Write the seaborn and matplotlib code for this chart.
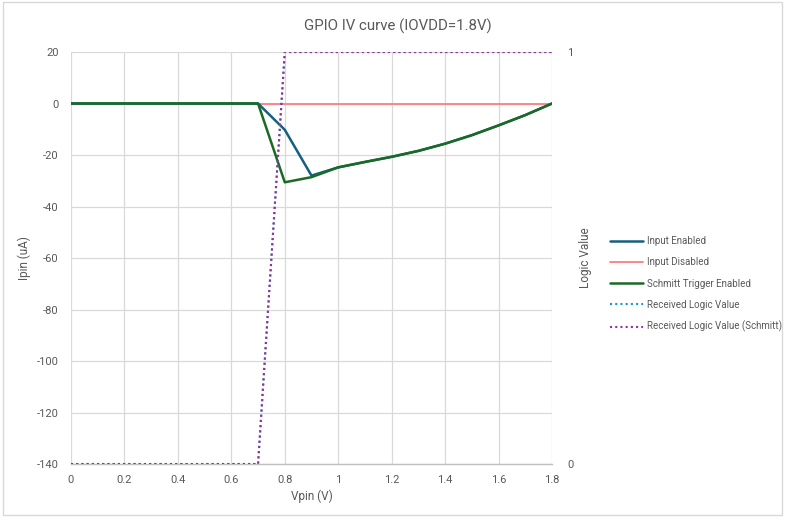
import matplotlib
matplotlib.use("Agg")
import matplotlib.pyplot as plt
import seaborn as sns
import pandas as pd
from matplotlib.lines import Line2D

vpin = [0.0, 0.1, 0.2, 0.3, 0.4, 0.5, 0.6, 0.7, 0.8, 0.9, 1.0, 1.1, 1.2, 1.3, 1.4, 1.5, 1.6, 1.7, 1.8]
input_enabled = [0, 0, 0, 0, 0, 0, 0, 0, -10.2, -28.0, -24.8, -22.7, -20.7, -18.4, -15.6, -12.3, -8.5, -4.5, 0]
input_disabled = [0] * 19
schmitt_enabled = [0, 0, 0, 0, 0, 0, 0, 0, -30.6, -28.6, -24.8, -22.7, -20.7, -18.4, -15.6, -12.3, -8.5, -4.5, 0]
logic_value = [0, 0, 0, 0, 0, 0, 0, 0, 1, 1, 1, 1, 1, 1, 1, 1, 1, 1, 1]
logic_value_schmitt = [0, 0, 0, 0, 0, 0, 0, 0, 1, 1, 1, 1, 1, 1, 1, 1, 1, 1, 1]

y_ticks = [20, 0, -20, -40, -60, -80, -100, -120, -140]
x_ticks = [0, 0.2, 0.4, 0.6, 0.8, 1, 1.2, 1.4, 1.6, 1.8]
x_tick_labels = ["0", "0.2", "0.4", "0.6", "0.8", "1", "1.2", "1.4", "1.6", "1.8"]

sns.set_theme(style="white")
plt.rcParams["font.family"] = ["Roboto", "DejaVu Sans"]

c_blue = "#156082"
c_red = "#FF7C80"
c_green = "#196B24"
c_cyan = "#0F9ED5"
c_purple = "#A02B93"
tick_color = "#595959"
dot = (0, (1, 1.5))

fig = plt.figure(figsize=(7.87, 5.17), dpi=100)
ax = fig.add_axes([0.0902, 0.1025, 0.6112, 0.7969])
ax2 = ax.twinx()

df = pd.DataFrame({"v": vpin, "en": input_enabled, "dis": input_disabled, "sch": schmitt_enabled,
                   "lv": logic_value, "lvs": logic_value_schmitt})

sns.lineplot(data=df, x="v", y="dis", ax=ax, color=c_red, linewidth=1.3, zorder=3)
sns.lineplot(data=df, x="v", y="en", ax=ax, color=c_blue, linewidth=1.8, zorder=4)
sns.lineplot(data=df, x="v", y="sch", ax=ax, color=c_green, linewidth=1.8, zorder=5)
sns.lineplot(data=df, x="v", y="lv", ax=ax2, color=c_cyan, linewidth=1.5, linestyle=dot)
sns.lineplot(data=df, x="v", y="lvs", ax=ax2, color=c_purple, linewidth=1.5, linestyle=dot)

ax.set_xlim(0, 1.8)
ax.set_ylim(-140, 20)
ax2.set_ylim(0, 1)
ax.set_xticks(x_ticks)
ax.set_xticklabels(x_tick_labels)
ax.set_yticks(y_ticks)
ax.set_yticklabels([str(t) for t in y_ticks])
ax2.set_yticks([0, 1])
ax2.set_yticklabels(["0", "1"])

ax.grid(True, color="#D9D9D9", linewidth=0.9)
ax.set_axisbelow(True)
for a in (ax, ax2):
    for s in ["top", "left", "right", "bottom"]:
        a.spines[s].set_visible(False)
ax.spines["bottom"].set_visible(True)
ax.spines["bottom"].set_color("#BFBFBF")
ax.spines["bottom"].set_linewidth(1.0)

ax.tick_params(axis="x", length=0, labelsize=8, colors=tick_color, pad=8)
ax.tick_params(axis="y", length=0, labelsize=8, colors=tick_color, pad=9)
ax2.tick_params(axis="y", length=0, labelsize=8, colors=tick_color, pad=11)

ax.set_xlabel("Vpin (V)", fontsize=8.5, color=tick_color, labelpad=3)
ax.set_ylabel("Ipin (uA)", fontsize=8.5, color=tick_color, labelpad=4)
ax2.set_ylabel("Logic Value", fontsize=8.5, color=tick_color, labelpad=4)

fig.text(0.505, 0.949, "GPIO IV curve (IOVDD=1.8V)", ha="center", va="center",
         fontsize=10.8, color="#595959")

handles = [
    Line2D([], [], color=c_blue, linewidth=1.8),
    Line2D([], [], color=c_red, linewidth=1.3),
    Line2D([], [], color=c_green, linewidth=1.8),
    Line2D([], [], color=c_cyan, linewidth=1.5, linestyle=dot),
    Line2D([], [], color=c_purple, linewidth=1.5, linestyle=dot),
]
labels = ["Input Enabled", "Input Disabled", "Schmitt Trigger Enabled",
          "Received Logic Value", "Received Logic Value (Schmitt)"]
fig.legend(handles, labels, loc="center left", bbox_to_anchor=(0.775, 0.45), frameon=False,
           fontsize=7, labelcolor=tick_color, handlelength=3.4, labelspacing=1.15,
           handletextpad=0.4, borderpad=0, borderaxespad=0)

fig.patches.append(plt.Rectangle((0.004, 0.004), 0.99, 0.992, transform=fig.transFigure,
                                 fill=False, edgecolor="#D9D9D9", linewidth=1.0))

fig.savefig("out.png", dpi=100)
